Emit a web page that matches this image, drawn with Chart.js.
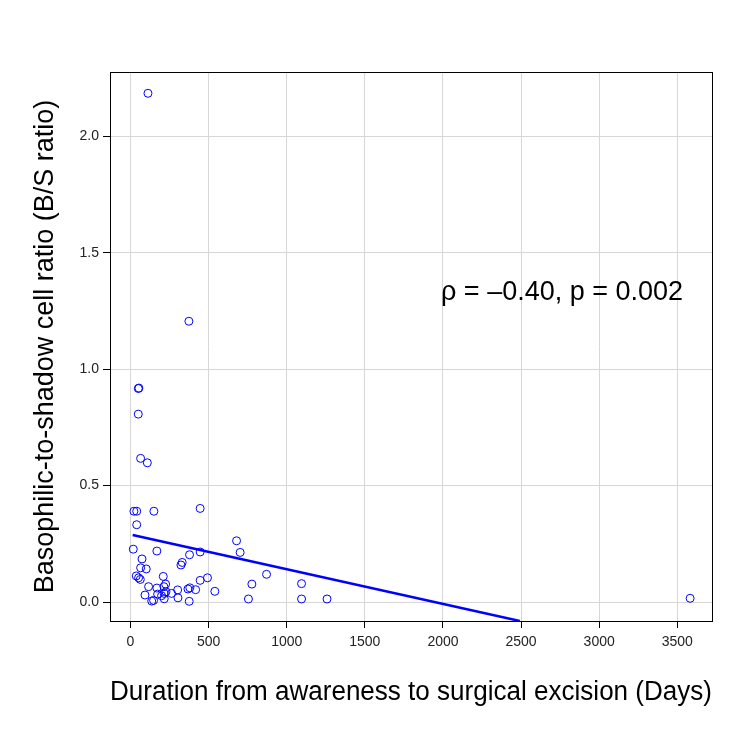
<!DOCTYPE html>
<html>
<head>
<meta charset="utf-8">
<script src="https://cdn.jsdelivr.net/npm/chart.js@4.4.1/dist/chart.umd.min.js"></script>
<style>
  html, body { margin: 0; padding: 0; background: #fff; }
  #wrap { width: 750px; height: 750px; }
</style>
</head>
<body>
<div id="wrap"><canvas id="bsChart" width="750" height="750"></canvas></div>
<script>
// Duration (days) and B/S ratio
const durationDays = [
  112, 374, 50, 54, 50, 65, 108, 22, 40, 150, 446, 40,
  18, 169, 74, 65, 101, 679, 702, 446, 378, 331, 323,
  37, 52, 63, 210, 493, 446, 777, 116, 169, 214, 225,
  302, 368, 380, 417, 540, 93, 174, 199, 216, 227, 263,
  136, 148, 216, 304, 376, 755, 871, 1095, 1095, 1258, 3582
];
const bsRatio = [
  2.185, 1.206, 0.917, 0.919, 0.807, 0.617, 0.598, 0.390, 0.390, 0.390, 0.402, 0.332,
  0.227, 0.219, 0.185, 0.147, 0.142, 0.263, 0.213, 0.215, 0.203, 0.170, 0.159,
  0.112, 0.104, 0.097, 0.110, 0.104, 0.093, 0.077, 0.066, 0.060, 0.066, 0.077,
  0.052, 0.056, 0.061, 0.053, 0.046, 0.030, 0.034, 0.027, 0.037, 0.044, 0.037,
  0.004, 0.007, 0.014, 0.018, 0.003, 0.013, 0.119, 0.079, 0.013, 0.013, 0.016
];

// fitted line end points
const fitX = [14, 2492];
const fitY = [0.288, -0.0815];

const xTicks = [0, 500, 1000, 1500, 2000, 2500, 3000, 3500];
const yTicks = [0, 0.5, 1.0, 1.5, 2.0];

const annotation = "ρ = –0.40, p = 0.002";

const points = durationDays.map((d, i) => ({ x: d, y: bsRatio[i] }));
const fitLine = fitX.map((d, i) => ({ x: d, y: fitY[i] }));

const FONT = '"Liberation Sans", Arial, sans-serif';

const boxAndText = {
  id: 'boxAndText',
  afterDraw(chart) {
    const { ctx, chartArea: a } = chart;
    ctx.save();
    ctx.strokeStyle = '#000';
    ctx.lineWidth = 1;
    ctx.strokeRect(a.left + 0.5, a.top + 0.5, a.right - a.left, a.bottom - a.top);
    ctx.fillStyle = '#000';
    ctx.font = '27px ' + FONT;
    ctx.textAlign = 'left';
    ctx.textBaseline = 'middle';
    ctx.fillText(annotation, 441, 293);
    ctx.restore();
  }
};

const ctx = document.getElementById('bsChart').getContext('2d');
new Chart(ctx, {
  type: 'scatter',
  data: {
    datasets: [
      {
        data: points,
        pointStyle: 'circle',
        pointRadius: 4,
        pointHoverRadius: 4,
        borderWidth: 1,
        borderColor: '#0000ff',
        backgroundColor: 'rgba(0,0,0,0)',
      },
      {
        type: 'line',
        data: fitLine,
        borderColor: '#0000ff',
        borderWidth: 2.5,
        pointRadius: 0,
        fill: false,
        clip: 0,
      },
    ],
  },
  options: {
    responsive: false,
    animation: false,
    events: [],
    layout: { padding: { top: 72, right: 38, left: 0, bottom: 0 } },
    plugins: { legend: { display: false }, tooltip: { enabled: false } },
    scales: {
      x: {
        type: 'linear',
        min: -131,
        max: 3722,
        afterBuildTicks: (s) => { s.ticks = xTicks.map(v => ({ value: v })); },
        afterFit: (s) => { s.height = 129; },
        grid: { color: '#d6d6d6', lineWidth: 1, tickColor: '#000', tickLength: 7 },
        border: { display: false },
        ticks: {
          color: '#222',
          font: { family: FONT, size: 14 },
          padding: 6,
          maxRotation: 0,
          callback: (v) => String(v),
        },
        title: {
          display: true,
          text: 'Duration from awareness to surgical excision (Days)',
          color: '#000',
          font: { family: FONT, size: 27 },
          padding: { top: 0, bottom: 41 },
        },
      },
      y: {
        type: 'linear',
        min: -0.0815,
        max: 2.2765,
        afterBuildTicks: (s) => { s.ticks = yTicks.map(v => ({ value: v })); },
        afterFit: (s) => { s.width = 110; },
        grid: { color: '#d6d6d6', lineWidth: 1, tickColor: '#000', tickLength: 7 },
        border: { display: false },
        ticks: {
          color: '#222',
          font: { family: FONT, size: 14 },
          padding: 4,
          callback: (v) => Number(v).toFixed(1),
        },
        title: {
          display: true,
          text: 'Basophilic-to-shadow cell ratio (B/S ratio)',
          color: '#000',
          font: { family: FONT, size: 27 },
          padding: { top: 29, bottom: 0 },
        },
      },
    },
  },
  plugins: [boxAndText],
});
</script>
</body>
</html>
